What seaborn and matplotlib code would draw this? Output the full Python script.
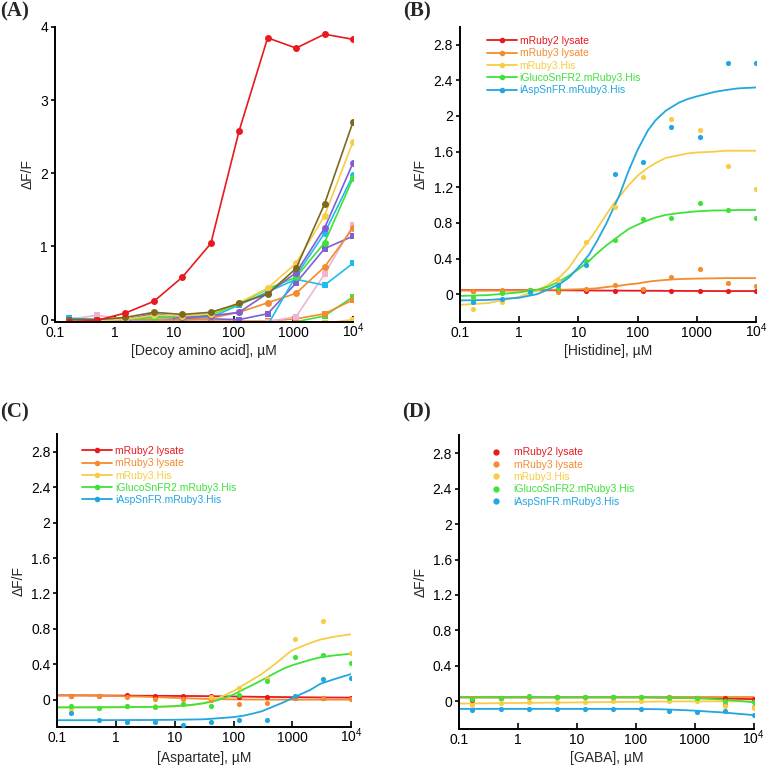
import matplotlib
matplotlib.use("Agg")
import matplotlib.pyplot as plt
import seaborn as sns
import pandas as pd
from matplotlib.lines import Line2D
from matplotlib.ticker import NullLocator

# ---------------- data ----------------
conc = [0.169, 0.508, 1.52, 4.57, 13.7, 41.2, 123, 370, 1111, 3333, 10000]
fit_x = [0.1, 0.3, 1, 2, 3, 5, 7, 10, 15, 20, 30, 40, 50, 70, 100, 150, 200,
         300, 500, 700, 1000, 2000, 3000, 5000, 10000]

series_names = ["mRuby2 lysate", "mRuby3 lysate", "mRuby3.His",
                "iGlucoSnFR2.mRuby3.His", "iAspSnFR.mRuby3.His"]

# Panel A (decoy amino acids), each line one amino acid
a_red_c = [-0.03, -0.01, 0.09, 0.25, 0.58, 1.04, 2.58, 3.85, 3.71, 3.90, 3.83]
a_olive_c = [0.0, 0.0, 0.03, 0.10, 0.07, 0.10, 0.22, 0.35, 0.70, 1.58, 2.70]
a_yellow_c = [-0.02, -0.01, 0.0, 0.06, 0.05, 0.08, 0.23, 0.43, 0.77, 1.42, 2.43]
a_purple_c = [0.0, 0.0, 0.0, 0.08, 0.03, 0.05, 0.10, 0.36, 0.64, 1.25, 2.14]
a_sky_c = [-0.05, -0.06, -0.06, -0.07, -0.07, -0.07, -0.08, -0.075, 0.60, 1.18, 1.97]
a_green_c = [-0.01, -0.01, 0.0, 0.03, 0.03, 0.06, 0.22, 0.42, 0.58, 1.05, 1.93]
a_orange_c = [-0.03, -0.02, 0.01, 0.0, -0.01, 0.02, 0.10, 0.23, 0.36, 0.72, 1.25]
a_pink_s = [0.0, 0.06, 0.0, -0.02, -0.02, -0.03, -0.03, -0.03, 0.04, 0.62, 1.29]
a_purple_s = [-0.01, 0.0, 0.0, 0.0, 0.01, 0.01, 0.0, 0.08, 0.50, 0.97, 1.14]
a_cyan_s = [0.02, 0.0, -0.01, 0.05, 0.03, 0.03, 0.20, 0.38, 0.55, 0.47, 0.77]
a_orange_s = [-0.03, -0.03, 0.0, -0.02, -0.02, -0.02, -0.02, -0.02, 0.01, 0.08, 0.27]
a_green_s = [-0.05, -0.05, -0.05, -0.05, -0.05, -0.05, -0.05, -0.05, -0.03, 0.05, 0.31]
a_yellow_s = [-0.06, -0.06, -0.06, -0.06, -0.06, -0.06, -0.06, -0.06, -0.06, -0.05, 0.0]

# Panel B (histidine): measured points
b_pts = {
    "mRuby2 lysate": [0.04, 0.035, 0.045, 0.035, 0.035, 0.04, 0.03, 0.03, 0.035, 0.03, 0.03],
    "mRuby3 lysate": [0.03, 0.045, 0.045, 0.02, 0.06, 0.10, 0.06, 0.19, 0.28, 0.12, 0.09],
    "mRuby3.His": [-0.17, -0.086, 0.03, 0.16, 0.58, 0.98, 1.32, 1.97, 1.84, 1.44, 1.18],
    "iGlucoSnFR2.mRuby3.His": [-0.03, 0.015, 0.05, 0.07, 0.37, 0.61, 0.84, 0.86, 1.02, 0.94, 0.85],
    "iAspSnFR.mRuby3.His": [-0.086, -0.05, 0.02, 0.10, 0.33, 1.35, 1.48, 1.88, 1.76, 2.59, 2.59],
}
# Panel B fitted curves at fit_x
b_fit = {
    "mRuby2 lysate": [0.045, 0.045, 0.045, 0.044, 0.044, 0.043, 0.043, 0.042, 0.042, 0.041, 0.04, 0.04, 0.04,
                      0.039, 0.039, 0.038, 0.038, 0.037, 0.037, 0.036, 0.036, 0.035, 0.035, 0.035, 0.035],
    "mRuby3 lysate": [0.04, 0.04, 0.04, 0.045, 0.05, 0.05, 0.052, 0.055, 0.06, 0.065, 0.08, 0.09, 0.095,
                      0.11, 0.12, 0.14, 0.15, 0.16, 0.17, 0.172, 0.175, 0.178, 0.18, 0.18, 0.18],
    "mRuby3.His": [-0.12, -0.10, -0.03, 0.04, 0.10, 0.20, 0.30, 0.45, 0.60, 0.72, 0.90, 1.02, 1.10,
                   1.22, 1.33, 1.42, 1.47, 1.53, 1.56, 1.58, 1.59, 1.60, 1.61, 1.61, 1.61],
    "iGlucoSnFR2.mRuby3.His": [-0.02, -0.01, 0.02, 0.05, 0.08, 0.15, 0.21, 0.28, 0.37, 0.45, 0.55, 0.61, 0.66,
                               0.73, 0.78, 0.83, 0.86, 0.89, 0.91, 0.92, 0.93, 0.94, 0.94, 0.945, 0.945],
    "iAspSnFR.mRuby3.His": [-0.07, -0.065, -0.04, 0.0, 0.05, 0.12, 0.19, 0.30, 0.44, 0.58, 0.80, 0.98, 1.12,
                            1.38, 1.62, 1.84, 1.95, 2.06, 2.15, 2.19, 2.22, 2.27, 2.29, 2.31, 2.32],
}

# Panel C (aspartate)
c_pts = {
    "mRuby2 lysate": [0.045, 0.045, 0.055, 0.045, 0.04, 0.04, 0.03, 0.03, 0.025, 0.015, 0.02],
    "mRuby3 lysate": [0.04, 0.04, 0.03, 0.01, 0.01, 0.0, -0.05, -0.04, 0.025, 0.02, 0.01],
    "mRuby3.His": [-0.10, -0.09, -0.07, -0.07, -0.05, 0.03, 0.13, 0.25, 0.69, 0.89, 0.53],
    "iGlucoSnFR2.mRuby3.His": [-0.065, -0.09, -0.075, -0.08, -0.05, -0.065, 0.06, 0.21, 0.48, 0.51, 0.42],
    "iAspSnFR.mRuby3.His": [-0.15, -0.23, -0.25, -0.255, -0.28, -0.245, -0.225, -0.225, 0.04, 0.23, 0.245],
}
c_fit = {
    "mRuby2 lysate": [0.05, 0.05, 0.048, 0.047, 0.046, 0.045, 0.045, 0.044, 0.043, 0.043, 0.042, 0.041, 0.04,
                      0.039, 0.038, 0.036, 0.035, 0.033, 0.032, 0.031, 0.03, 0.028, 0.027, 0.026, 0.025],
    "mRuby3 lysate": [0.05, 0.048, 0.043, 0.038, 0.035, 0.03, 0.026, 0.022, 0.018, 0.015, 0.012, 0.01, 0.008,
                      0.006, 0.005, 0.004, 0.003, 0.003, 0.002, 0.002, 0.002, 0.002, 0.002, 0.002, 0.002],
    "mRuby3.His": [-0.085, -0.085, -0.084, -0.083, -0.082, -0.08, -0.078, -0.075, -0.068, -0.06, -0.04, -0.015, 0.01,
                   0.05, 0.10, 0.17, 0.22, 0.29, 0.40, 0.48, 0.56, 0.64, 0.68, 0.71, 0.74],
    "iGlucoSnFR2.mRuby3.His": [-0.085, -0.085, -0.083, -0.082, -0.08, -0.078, -0.075, -0.07, -0.063, -0.055, -0.04,
                               -0.025, -0.01, 0.02, 0.06, 0.12, 0.16, 0.22, 0.30, 0.35, 0.39, 0.45, 0.48, 0.50, 0.52],
    "iAspSnFR.mRuby3.His": [-0.23, -0.23, -0.229, -0.228, -0.228, -0.227, -0.226, -0.225, -0.223, -0.222, -0.22,
                            -0.215, -0.21, -0.203, -0.195, -0.178, -0.16, -0.13, -0.07, -0.03, 0.02, 0.11, 0.18,
                            0.23, 0.29],
}

# Panel D (GABA)
d_pts = {
    "mRuby2 lysate": [0.01, 0.04, 0.045, 0.045, 0.045, 0.045, 0.045, 0.045, 0.04, 0.035, 0.025],
    "mRuby3 lysate": [0.04, 0.04, 0.045, 0.045, 0.045, 0.045, 0.045, 0.045, 0.04, -0.03, -0.06],
    "mRuby3.His": [-0.04, -0.02, -0.01, -0.005, -0.01, 0.0, 0.0, 0.0, 0.0, -0.05, -0.07],
    "iGlucoSnFR2.mRuby3.His": [0.03, 0.04, 0.055, 0.045, 0.045, 0.045, 0.045, 0.04, 0.035, 0.0, -0.01],
    "iAspSnFR.mRuby3.His": [-0.093, -0.085, -0.09, -0.088, -0.085, -0.085, -0.082, -0.11, -0.12, -0.11, -0.155],
}
d_fit = {
    "mRuby2 lysate": [0.045, 0.045, 0.045, 0.045, 0.045, 0.045, 0.045, 0.045, 0.045, 0.045, 0.045, 0.045, 0.045,
                      0.045, 0.045, 0.045, 0.044, 0.043, 0.042, 0.041, 0.04, 0.036, 0.033, 0.029, 0.025],
    "mRuby3 lysate": [0.045] * 25,
    "mRuby3.His": [-0.025, -0.022, -0.018, -0.016, -0.015, -0.014, -0.013, -0.012, -0.011, -0.01, -0.009, -0.008,
                   -0.007, -0.006, -0.005, -0.004, -0.003, -0.002, -0.001, 0.0, 0.0, 0.0, 0.0, 0.0, 0.0],
    "iGlucoSnFR2.mRuby3.His": [0.045, 0.045, 0.045, 0.045, 0.045, 0.045, 0.045, 0.045, 0.045, 0.045, 0.045, 0.045,
                               0.045, 0.045, 0.045, 0.045, 0.044, 0.043, 0.04, 0.038, 0.035, 0.026, 0.02, 0.008,
                               -0.01],
    "iAspSnFR.mRuby3.His": [-0.085, -0.085, -0.085, -0.085, -0.085, -0.085, -0.085, -0.085, -0.085, -0.085, -0.085,
                            -0.085, -0.085, -0.085, -0.085, -0.087, -0.088, -0.09, -0.096, -0.1, -0.105, -0.118,
                            -0.125, -0.138, -0.155],
}

x_ticks = [0.1, 1, 10, 100, 1000, 10000]
x_ticklabels = ["0.1", "1", "10", "100", "1000", r"$\mathregular{10^4}$"]
a_yticks = [0, 1, 2, 3, 4]
bcd_yticks = [0, 0.4, 0.8, 1.2, 1.6, 2.0, 2.4, 2.8]
bcd_yticklabels = ["0", "0.4", "0.8", "1.2", "1.6", "2", "2.4", "2.8"]

# ---------------- style ----------------
sns.set_style("ticks")
plt.rcParams["font.family"] = ["Liberation Sans", "DejaVu Sans"]
plt.rcParams["mathtext.fontset"] = "custom"
plt.rcParams["mathtext.rm"] = "Liberation Sans"

colors = {
    "mRuby2 lysate": "#e8191f",
    "mRuby3 lysate": "#f28c2e",
    "mRuby3.His": "#f7cd45",
    "iGlucoSnFR2.mRuby3.His": "#3ee23a",
    "iAspSnFR.mRuby3.His": "#22a6df",
}

fig = plt.figure(figsize=(7.67, 7.68), dpi=100)
axA = fig.add_axes([0.0717, 0.581, 0.3885, 0.384])
axB = fig.add_axes([0.5997, 0.581, 0.386, 0.384])
axC = fig.add_axes([0.0747, 0.053, 0.383, 0.382])
axD = fig.add_axes([0.5985, 0.051, 0.384, 0.382])


def style_axis(ax, ylim, yticks, yticklabels, xlabel, xlabelpad=3):
    ax.set_xscale("log")
    ax.set_xlim(0.1, 10000)
    ax.set_ylim(*ylim)
    ax.set_xticks(x_ticks)
    ax.set_xticklabels(x_ticklabels)
    ax.xaxis.set_minor_locator(NullLocator())
    ax.set_yticks(yticks)
    ax.set_yticklabels(yticklabels)
    ax.tick_params(axis="x", direction="in", length=4, width=1.2, labelsize=10,
                   pad=10.6, colors="black")
    for lab in ax.get_xticklabels():
        lab.set_verticalalignment("baseline")
    ax.tick_params(axis="y", direction="out", length=3, width=1.2, labelsize=10,
                   pad=2, colors="black")
    for s in ("top", "right"):
        ax.spines[s].set_visible(False)
    for s in ("left", "bottom"):
        ax.spines[s].set_linewidth(1.4)
        ax.spines[s].set_color("black")
    ax.set_xlabel(xlabel, fontsize=10, labelpad=xlabelpad)
    ax.set_ylabel("ΔF/F", fontsize=10, labelpad=4)


# ---------------- Panel A ----------------
a_series = [
    (a_yellow_s, "#f7cd45", "s"),
    (a_green_s, "#3ee23a", "s"),
    (a_orange_s, "#f28c2e", "s"),
    (a_pink_s, "#efb3d6", "s"),
    (a_cyan_s, "#1ebdee", "s"),
    (a_purple_s, "#7f5fd6", "s"),
    (a_orange_c, "#f28c2e", "o"),
    (a_sky_c, "#1ebdee", "o"),
    (a_green_c, "#3ee23a", "o"),
    (a_purple_c, "#7f5fd6", "o"),
    (a_yellow_c, "#f7cd45", "o"),
    (a_olive_c, "#7a6a1f", "o"),
    (a_red_c, "#e8191f", "o"),
]
for vals, col, mk in a_series:
    sns.lineplot(x=conc, y=vals, ax=axA, color=col, marker=mk, markersize=5,
                 markeredgewidth=0, linewidth=1.2, legend=False)
style_axis(axA, (-0.03, 4.0), a_yticks, [str(t) for t in a_yticks],
           "[Decoy amino acid], µM", 3)


# ---------------- Panels B, C, D ----------------
def draw_panel(ax, pts, fit, xlabel, legend_lines, leg_x, leg_y, xlabelpad):
    for name in series_names:
        df_fit = pd.DataFrame({"x": fit_x, "y": fit[name]})
        sns.lineplot(data=df_fit, x="x", y="y", ax=ax, color=colors[name],
                     linewidth=1.3, legend=False)
    for name in series_names:
        df_pts = pd.DataFrame({"x": conc, "y": pts[name]})
        sns.scatterplot(data=df_pts, x="x", y="y", ax=ax, color=colors[name],
                        s=14, linewidth=0, legend=False, zorder=3)
    style_axis(ax, (-0.31, 3.0), bcd_yticks, bcd_yticklabels, xlabel, xlabelpad)
    handles = []
    for name in series_names:
        if legend_lines:
            h = Line2D([], [], color=colors[name], marker="o", markersize=3,
                       linewidth=1.3)
        else:
            h = Line2D([], [], color=colors[name], marker="o", markersize=3.5,
                       linewidth=0)
        handles.append(h)
    ax.legend(handles, series_names, loc="upper left",
              bbox_to_anchor=(leg_x, leg_y), frameon=False, fontsize=7.5,
              handlelength=2.9, handletextpad=0.25, labelspacing=0.22,
              borderpad=0, borderaxespad=0,
              labelcolor=[colors[n] for n in series_names])


draw_panel(axB, b_pts, b_fit, "[Histidine], µM", True, 0.091, 0.969, 3)
draw_panel(axC, c_pts, c_fit, "[Aspartate], µM", True, 0.084, 0.959, 4)
draw_panel(axD, d_pts, d_fit, "[GABA], µM", False, 0.074, 0.959, 3)

# ---------------- panel letters ----------------
for x, y, t in [(0.0, 0.998, "(A)"), (0.525, 0.998, "(B)"),
                (0.0, 0.476, "(C)"), (0.524, 0.476, "(D)")]:
    fig.text(x, y, t, fontfamily=["Liberation Serif", "DejaVu Serif"],
             fontweight="bold", fontsize=15, ha="left", va="top")

fig.savefig("out.png", dpi=100)
